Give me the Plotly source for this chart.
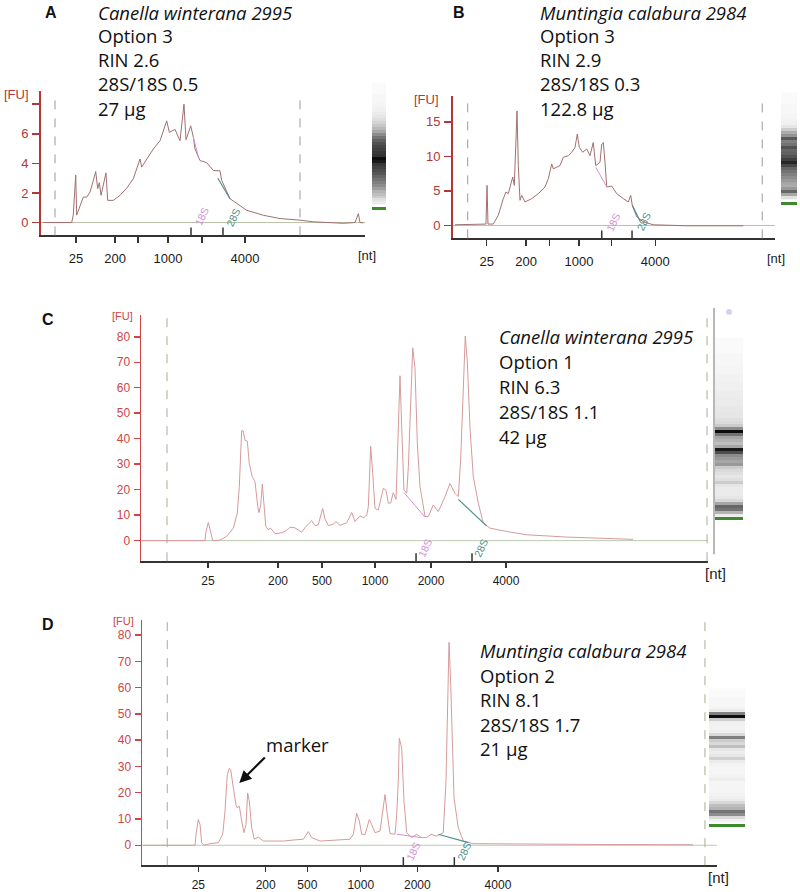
import plotly.graph_objects as go

W, H = 800, 892

# ------------------------------------------------------------------ data
# migration time (s) and fluorescence (FU)
a_time = [17.33, 22.02, 22.28, 22.68, 22.84, 23.38, 23.92, 24.48, 25.02, 25.56, 25.95, 26.28,
          26.54, 26.82, 27.19, 27.63, 27.91, 28.83, 29.92, 31.02, 32.10, 33.20, 33.47, 34.29,
          35.37, 36.47, 37.56, 37.99, 38.92, 39.74, 40.39, 40.72, 41.49, 41.91, 42.19, 43.01,
          44.11, 45.19, 46.28, 46.56, 47.92, 49.01, 50.65, 53.37, 56.10, 59.37, 61.54, 66.45,
          68.37, 68.91, 69.18, 69.72]
a_fu = [0.0, 0.0, 0.5, 3.2, 0.5, 1.16, 1.72, 1.72, 2.06, 2.85, 3.45, 2.29,
        2.7, 1.84, 2.5, 3.36, 1.5, 1.5, 1.84, 2.33, 2.96, 4.3, 3.75, 4.3,
        4.97, 5.53, 6.88, 6.1, 6.3, 5.53, 8.0, 5.6, 6.54, 5.8, 4.97, 4.19,
        4.05, 3.52, 3.5, 2.85, 1.61, 1.3, 0.83, 0.49, 0.27, 0.16, 0.05, -0.05,
        0.0, 0.6, 0.0, -0.02]

b_time = [17.33, 22.27, 22.43, 22.60, 22.76, 23.63, 24.46, 25.28, 25.72, 26.10, 26.50, 26.83,
          27.09, 27.54, 27.75, 28.03, 28.31, 28.85, 29.95, 31.04, 32.14, 32.69, 33.25, 33.51,
          34.61, 35.16, 35.98, 36.54, 37.08, 37.46, 37.79, 38.35, 39.01, 39.55, 40.09, 40.49,
          40.87, 41.20, 41.48, 41.74, 42.02, 42.30, 43.12, 43.95, 45.03, 45.86, 46.25, 46.51,
          47.24, 48.33, 49.97, 55.47, 64.79]
b_fu = [0.1, 0.2, 0.2, 5.8, 0.2, 0.2, 1.48, 3.88, 4.84, 4.6, 6.03, 7.0,
        5.8, 16.57, 8.67, 3.64, 4.35, 3.40, 3.88, 4.6, 5.56, 6.75, 8.9, 8.19,
        8.67, 9.87, 10.1, 10.59, 11.3, 13.22, 11.3, 10.59, 11.06, 10.1, 12.0, 8.67,
        8.9, 9.15, 11.78, 12.0, 9.15, 5.56, 5.7, 4.6, 3.88, 3.4, 4.35, 2.92,
        1.25, 0.53, 0.1, -0.05, -0.05]

c_time = [17.07, 22.98, 23.05, 23.29, 23.45, 23.70, 24.38, 25.01, 25.63, 26.00, 26.19, 26.41,
          26.56, 26.72, 26.94, 27.12, 27.40, 27.66, 27.91, 28.03, 28.19, 28.34, 28.50, 28.66,
          28.90, 29.12, 29.53, 30.15, 30.62, 30.93, 31.40, 32.02, 32.42, 32.96, 33.26, 33.57,
          33.98, 34.20, 34.51, 34.98, 35.23, 35.60, 36.23, 36.70, 37.00, 37.47, 37.84, 38.10,
          38.25, 38.47, 38.66, 38.87, 39.18, 39.65, 39.90, 40.12, 40.34, 40.58, 40.84, 41.05,
          41.21, 41.37, 41.58, 41.84, 41.99, 42.40, 42.61, 42.83, 43.08, 43.55, 43.86, 44.32,
          44.79, 45.42, 45.88, 46.35, 46.66, 46.88, 47.13, 47.31, 47.50, 47.75, 48.06, 48.53,
          48.99, 49.62, 51.18, 53.05, 56.79, 59.91, 62.99]
c_fu = [0.0, 0.0, 3.0, 7.1, 4.5, 0.0, 0.2, 1.7, 4.9, 10.8, 21.2, 43.2,
        43.0, 39.4, 39.0, 30.3, 25.1, 23.1, 13.4, 11.0, 14.0, 22.2, 14.0, 5.6,
        4.3, 4.9, 2.7, 3.1, 4.0, 5.3, 5.0, 3.3, 5.6, 7.8, 5.9, 6.2,
        12.7, 8.5, 5.9, 6.5, 7.5, 6.0, 7.0, 11.0, 7.5, 9.7, 9.0, 10.1,
        13.4, 37.0, 26.4, 12.7, 12.0, 20.5, 19.8, 14.7, 14.8, 18.8, 16.2, 47.2,
        64.7, 44.5, 19.9, 18.6, 29.0, 75.7, 67.9, 38.0, 21.2, 9.5, 9.5, 14.0,
        11.4, 17.3, 22.4, 18.6, 17.3, 31.6, 64.0, 80.3, 70.5, 44.5, 25.1, 14.7,
        6.9, 4.9, 3.6, 2.3, 1.4, 1.0, 0.5]

d_time = [17.10, 21.89, 21.98, 22.19, 22.35, 22.50, 22.71, 23.27, 24.03, 24.44, 24.65, 24.86,
          25.05, 25.18, 25.42, 25.66, 25.78, 25.97, 26.19, 26.40, 26.59, 26.74, 26.89, 27.11,
          27.35, 27.72, 28.18, 30.02, 30.95, 31.87, 32.33, 32.64, 33.41, 34.63, 36.17, 36.48,
          36.79, 37.03, 37.25, 37.55, 37.95, 38.17, 38.48, 38.94, 39.40, 39.61, 39.86, 40.32,
          40.48, 40.62, 40.72, 40.94, 41.15, 41.40, 41.86, 42.32, 42.78, 43.24, 43.64, 44.16,
          44.77, 45.02, 45.30, 45.45, 45.76, 46.15, 46.62, 47.54, 52.46, 59.22, 67.79]
d_fu = [0.0, 0.0, 4.2, 9.8, 7.9, 1.0, 0.0, 0.6, 1.0, 4.2, 13.0, 26.8,
        29.3, 28.7, 21.8, 15.5, 14.2, 14.9, 9.2, 4.8, 7.9, 19.9, 16.8, 6.7,
        2.3, 3.1, 1.6, 1.6, 2.0, 2.3, 5.2, 2.9, 1.6, 1.9, 2.3, 4.2,
        12.2, 9.2, 4.2, 4.0, 9.8, 7.9, 4.8, 5.4, 19.3, 11.7, 4.4, 4.2,
        11.7, 24.3, 40.7, 36.9, 16.8, 4.8, 2.9, 4.2, 2.9, 3.0, 4.2, 3.5,
        4.8, 24.3, 77.2, 62.1, 18.0, 6.7, 1.6, 0.6, 0.4, 0.3, 0.2]

# 18S / 28S peak-baseline segments (time, FU)
a_18s_seg = ([41.91, 42.77], [5.8, 4.4])
a_28s_seg = ([45.93, 47.92], [3.0, 1.61])
b_18s_seg = ([40.49, 42.30], [8.4, 5.6])
b_28s_seg = ([46.51, 47.80], [2.92, 0.6])
c_18s_seg = ([41.58, 43.55], [18.9, 9.2])
c_28s_seg = ([46.66, 49.30], [16.2, 5.8])
d_18s_seg = ([40.48, 42.78], [4.2, 2.9])
d_28s_seg = ([44.31, 47.08], [4.2, 1.0])

# size ladder ticks (time positions) and labels
a_tick_time = [22.73, 29.11, 32.87, 37.78, 43.34, 50.37]
b_tick_time = [22.55, 29.02, 32.85, 37.74, 43.12, 50.30]
c_tick_time = [23.26, 29.81, 33.92, 38.87, 44.11, 51.12]
d_tick_time = [22.19, 28.40, 32.24, 37.16, 42.38, 49.81]
ab_tick_text = ["25", "200", "", "1000", "", "4000"]
cd_tick_text = ["25", "200", "500", "1000", "2000", "4000"]

# 18S and 28S positions
a_rrna_time = [41.54, 46.77]
b_rrna_time = [41.48, 46.47]
c_rrna_time = [42.71, 47.94]
d_rrna_time = [41.09, 45.79]
rrna_names = ["18S", "28S"]

# analysis window (dashed lines)
a_window = [19.29, 59.37]
b_window = [19.42, 67.90]
c_window = [19.43, 69.91]
d_window = [19.33, 68.89]

a_fu_ticks = [0, 2, 4, 6, 8]
a_fu_text = ["0", "2", "4", "6", ""]
b_fu_ticks = [0, 5, 10, 15]
cd_fu_ticks = [0, 10, 20, 30, 40, 50, 60, 70, 80]

# sample descriptions
a_info = ["Canella winterana 2995", "Option 3", "RIN 2.6", "28S/18S 0.5", "27 µg"]
b_info = ["Muntingia calabura 2984", "Option 3", "RIN 2.9", "28S/18S 0.3", "122.8 µg"]
c_info = ["Canella winterana 2995", "Option 1", "RIN 6.3", "28S/18S 1.1", "42 µg"]
d_info = ["Muntingia calabura 2984", "Option 2", "RIN 8.1", "28S/18S 1.7", "21 µg"]

# gel-like lane intensity profiles (0 = white, 1 = black), top to bottom
lane_a_gray = [0.02, 0.02, 0.02, 0.02, 0.03, 0.03, 0.03, 0.04, 0.05, 0.06, 0.08, 0.10, 0.13, 0.17,
               0.22, 0.28, 0.35, 0.45, 0.55, 0.62, 0.68, 0.72, 0.75, 0.78, 0.80, 0.95, 0.90, 0.78,
               0.74, 0.70, 0.66, 0.60, 0.55, 0.50, 0.45, 0.38, 0.30, 0.25, 0.20, 0.12, 0.08]
lane_b_gray = [0.02, 0.02, 0.02, 0.02, 0.03, 0.03, 0.03, 0.04, 0.04, 0.05, 0.06, 0.10, 0.20, 0.32,
               0.42, 0.65, 0.50, 0.55, 0.68, 0.60, 0.62, 0.68, 0.75, 0.85, 0.72, 0.60, 0.55, 0.50,
               0.45, 0.40, 0.35, 0.32, 0.40, 0.60, 0.35, 0.12]
lane_c_gray = [0.02, 0.02, 0.02, 0.02, 0.02, 0.03, 0.03, 0.03, 0.03, 0.04, 0.04, 0.04, 0.05, 0.05,
               0.05, 0.06, 0.06, 0.06, 0.07, 0.07, 0.08, 0.08, 0.08, 0.09, 0.09, 0.10, 0.10, 0.12,
               0.14, 0.20, 0.45, 0.95, 0.55, 0.35, 0.30, 0.25, 0.35, 0.90, 0.70, 0.45, 0.40, 0.35,
               0.40, 0.20, 0.15, 0.12, 0.10, 0.12, 0.20, 0.10, 0.08, 0.08, 0.08, 0.10, 0.15, 0.35,
               0.60, 0.55, 0.30, 0.08]
lane_d_gray = [0.02, 0.02, 0.02, 0.03, 0.03, 0.03, 0.04, 0.08, 0.50, 0.95, 0.20, 0.06, 0.05, 0.05,
               0.06, 0.15, 0.50, 0.20, 0.15, 0.25, 0.10, 0.07, 0.10, 0.18, 0.08, 0.05, 0.04, 0.04,
               0.04, 0.05, 0.07, 0.04, 0.04, 0.04, 0.04, 0.05, 0.06, 0.08, 0.15, 0.25, 0.30, 0.55,
               0.45, 0.15, 0.05]
# lower marker (green) position in lane rows
lane_marker_row = [41.83, 36.83, 60.17, 45.5]

# ------------------------------------------------------------------ layout helpers
def px(x):
    return x / W


def py(y):
    return 1 - y / H


DARK_RED_AB = "#b03838"
RED_CD = "#d04545"
TRACE_AB = "#a07070"
TRACE_CD = "#d69a9a"
C18 = "#d490d6"
C28 = "#4f8f8c"
INFO_FONT = 18.5

panels = [
    dict(key="a", xa="x", ya="y", box=(41, 365, 92, 237), yr=[-0.87, 8.87],
         t=a_time, f=a_fu, s18=a_18s_seg, s28=a_28s_seg, tt=a_tick_time, ttxt=ab_tick_text,
         rr=a_rrna_time, win=a_window, yt=a_fu_ticks, ytxt=a_fu_text,
         trace=TRACE_AB, axred=DARK_RED_AB, lblred=DARK_RED_AB, dash="#9a9a9a", base="#b7c2a8",
         xfont=13, yfont=13, ticklen_y=7, ticklen_x=6, lw=2, xstand=4, rfont=10.5,
         rlab=(10, 19),
         info=a_info, info_x=96, info_y=[13, 36, 60, 84, 109], letter="A", letter_xy=(51, 13),
         fu_xy=(16, 95), fu_size=13, nt_xy=(367, 257), nt_size=13),
    dict(key="b", xa="x2", ya="y2", box=(453, 775, 97, 240), yr=[-1.87, 18.68],
         t=b_time, f=b_fu, s18=b_18s_seg, s28=b_28s_seg, tt=b_tick_time, ttxt=ab_tick_text,
         rr=b_rrna_time, win=b_window, yt=b_fu_ticks, ytxt=[str(v) for v in b_fu_ticks],
         trace=TRACE_AB, axred=DARK_RED_AB, lblred=DARK_RED_AB, dash="#9a9a9a", base="#b7c2a8",
         xfont=13, yfont=13, ticklen_y=7, ticklen_x=6, lw=2, xstand=4, rfont=10.5,
         rlab=(11, 17),
         info=b_info, info_x=538, info_y=[13, 36, 60, 84, 109], letter="B", letter_xy=(459, 13),
         fu_xy=(427, 100), fu_size=13, nt_xy=(776, 260), nt_size=13),
    dict(key="c", xa="x3", ya="y3", box=(141, 708, 317, 565), yr=[-8.07, 88.6],
         t=c_time, f=c_fu, s18=c_18s_seg, s28=c_28s_seg, tt=c_tick_time, ttxt=cd_tick_text,
         rr=c_rrna_time, win=c_window, yt=cd_fu_ticks, ytxt=[str(v) for v in cd_fu_ticks],
         trace=TRACE_CD, axred=RED_CD, lblred=RED_CD, dash="#a3b093", base="#bccbb0",
         xfont=12, yfont=12, ticklen_y=6, ticklen_x=5, lw=1.5, xstand=3, rfont=10.5,
         rlab=(9, 13),
         info=c_info, info_x=497, info_y=[339, 364, 389, 414, 439], letter="C", letter_xy=(48, 322),
         fu_xy=(122, 318), fu_size=11, nt_xy=(715, 577), nt_size=15),
    dict(key="d", xa="x4", ya="y4", box=(142, 717, 624, 871), yr=[-7.56, 85.8],
         t=d_time, f=d_fu, s18=d_18s_seg, s28=d_28s_seg, tt=d_tick_time, ttxt=cd_tick_text,
         rr=d_rrna_time, win=d_window, yt=cd_fu_ticks, ytxt=[str(v) for v in cd_fu_ticks],
         trace=TRACE_CD, axred=RED_CD, lblred=RED_CD, dash="#a3b093", base="#bccbb0",
         xfont=12, yfont=12, ticklen_y=6, ticklen_x=5, lw=1.5, xstand=3, rfont=10.5,
         rlab=(10, 14),
         info=d_info, info_x=478, info_y=[655, 680, 704, 729, 754], letter="D", letter_xy=(48, 629),
         fu_xy=(123, 625), fu_size=11, nt_xy=(718, 883), nt_size=15),
]

fig = go.Figure()
shapes = []
annotations = []
layout_axes = {}

for p in panels:
    L, R, T, B = p["box"]
    xa, ya = p["xa"], p["ya"]
    xname = "xaxis" + xa[1:]
    yname = "yaxis" + ya[1:]
    hpx = B - T

    fig.add_trace(go.Scatter(x=p["t"], y=p["f"], mode="lines", xaxis=xa, yaxis=ya,
                             line=dict(color=p["trace"], width=1), hoverinfo="skip"))
    fig.add_trace(go.Scatter(x=p["s18"][0], y=p["s18"][1], mode="lines", xaxis=xa, yaxis=ya,
                             line=dict(color=C18, width=1), hoverinfo="skip"))
    fig.add_trace(go.Scatter(x=p["s28"][0], y=p["s28"][1], mode="lines", xaxis=xa, yaxis=ya,
                             line=dict(color=C28, width=1.2), hoverinfo="skip"))

    layout_axes[xname] = dict(
        domain=[px(L), px(R)], range=[17, 70], anchor=ya, showgrid=False, zeroline=False,
        showline=True, linecolor="#333333", linewidth=p["lw"], ticks="outside",
        ticklen=p["ticklen_x"], tickcolor="#333333", tickwidth=1.5,
        tickvals=p["tt"], ticktext=p["ttxt"], ticklabelstandoff=p["xstand"],
        tickfont=dict(family="Liberation Sans, Arial", size=p["xfont"], color="#1a1a1a"),
        fixedrange=True)
    layout_axes[yname] = dict(
        domain=[py(B), py(T)], range=p["yr"], anchor=xa, showgrid=False, zeroline=False,
        showline=True, linecolor=p["axred"], linewidth=p["lw"], ticks="outside",
        ticklen=p["ticklen_y"], tickcolor=p["axred"], tickwidth=1.5,
        tickvals=p["yt"], ticktext=p["ytxt"], ticklabelstandoff=1,
        tickfont=dict(family="Liberation Sans, Arial", size=p["yfont"], color=p["lblred"]),
        fixedrange=True)

    # baseline
    shapes.append(dict(type="line", xref=xa + " domain", yref=ya, x0=0, x1=1, y0=0, y1=0,
                       line=dict(color=p["base"], width=1), layer="below"))
    # analysis window
    for wv in p["win"]:
        shapes.append(dict(type="line", xref=xa, yref=ya + " domain", x0=wv, x1=wv, y0=0, y1=1,
                           line=dict(color=p["dash"], width=1, dash="dash")))
    # 18S / 28S up-ticks and labels
    for rv, nm, col in zip(p["rr"], rrna_names, [C18, C28]):
        shapes.append(dict(type="line", xref=xa, yref=ya + " domain", x0=rv, x1=rv,
                           y0=0, y1=8 / hpx, line=dict(color="#333333", width=1.5)))
        annotations.append(dict(text=nm, xref=xa, yref=ya + " domain", x=rv, xshift=p["rlab"][0],
                                y=p["rlab"][1] / hpx, xanchor="center", yanchor="middle",
                                showarrow=False, textangle=-65,
                                font=dict(family="Liberation Sans, Arial", size=p["rfont"], color=col)))

    # info text
    for i, (txt, yy) in enumerate(zip(p["info"], p["info_y"])):
        annotations.append(dict(text=("<i>%s</i>" % txt) if i == 0 else txt, xref="paper", yref="paper",
                                x=px(p["info_x"]), y=py(yy), xanchor="left", yanchor="middle",
                                showarrow=False,
                                font=dict(family="Open Sans", size=INFO_FONT, color="#111111")))
    annotations.append(dict(text="<b>%s</b>" % p["letter"], xref="paper", yref="paper",
                            x=px(p["letter_xy"][0]), y=py(p["letter_xy"][1]), xanchor="center",
                            yanchor="middle", showarrow=False,
                            font=dict(family="Liberation Sans, Arial", size=16, color="#111111")))
    annotations.append(dict(text="[FU]", xref="paper", yref="paper",
                            x=px(p["fu_xy"][0]), y=py(p["fu_xy"][1]), xanchor="center",
                            yanchor="middle", showarrow=False,
                            font=dict(family="Liberation Sans, Arial", size=p["fu_size"], color=p["lblred"])))
    annotations.append(dict(text="[nt]", xref="paper", yref="paper",
                            x=px(p["nt_xy"][0]), y=py(p["nt_xy"][1]), xanchor="center",
                            yanchor="middle", showarrow=False,
                            font=dict(family="Liberation Sans, Arial", size=p["nt_size"], color="#222222")))

# marker arrow in panel D
annotations.append(dict(text="", xref="x4", yref="y4", x=25.97, y=23.7, ax=27, ay=-27,
                        showarrow=True, arrowhead=2, arrowsize=1.1, arrowwidth=2.2,
                        arrowcolor="#111111"))
annotations.append(dict(text="marker", xref="paper", yref="paper", x=px(297), y=py(750),
                        xanchor="center", yanchor="middle", showarrow=False,
                        font=dict(family="Open Sans", size=INFO_FONT, color="#111111")))

# ------------------------------------------------------------------ gel lanes
lanes = [
    dict(g=lane_a_gray, xl=372, xr=386, top=83, row=3),
    dict(g=lane_b_gray, xl=781, xr=797, top=93, row=3),
    dict(g=lane_c_gray, xl=715, xr=743, top=340, row=3),
    dict(g=lane_d_gray, xl=709, xr=745, top=693, row=3),
]
for i, (ln, mrow) in enumerate(zip(lanes, lane_marker_row)):
    k = str(5 + i)
    xa, ya = "x" + k, "y" + k
    bottom_row = mrow + 1.5
    bottom_px = ln["top"] + (bottom_row + 0.5) * ln["row"]
    fig.add_trace(go.Heatmap(z=[[v] for v in ln["g"]], x=[0], y=list(range(len(ln["g"]))),
                             xaxis=xa, yaxis=ya, zmin=0, zmax=1, showscale=False,
                             colorscale=[[0, "#ffffff"], [1, "#000000"]], hoverinfo="skip"))
    layout_axes["xaxis" + k] = dict(domain=[px(ln["xl"]), px(ln["xr"])], range=[-0.5, 0.5],
                                    anchor=ya, visible=False, fixedrange=True)
    layout_axes["yaxis" + k] = dict(domain=[py(bottom_px), py(ln["top"])],
                                    range=[bottom_row, -0.5], anchor=xa, visible=False, fixedrange=True)
    shapes.append(dict(type="rect", xref=xa + " domain", yref=ya, x0=0, x1=1,
                       y0=mrow - 0.5, y1=mrow + 0.5, fillcolor="#3c8a2c", line=dict(width=0)))

# lane separator and upper marker dot in panel C
shapes.append(dict(type="line", xref="paper", yref="paper", x0=px(714), x1=px(714),
                   y0=py(310), y1=py(558), line=dict(color="#888888", width=1.2)))
shapes.append(dict(type="circle", xref="paper", yref="paper", x0=px(726), x1=px(732),
                   y0=py(317), y1=py(311), fillcolor="#d2d2ee", line=dict(width=0)))

fig.update_layout(
    width=W, height=H, margin=dict(l=0, r=0, t=0, b=0),
    paper_bgcolor="white", plot_bgcolor="rgba(0,0,0,0)", showlegend=False,
    shapes=shapes, annotations=annotations, **layout_axes)

fig.write_html("out.html", config={"displayModeBar": False, "staticPlot": True},
               post_script="document.body.style.margin='0px';document.body.style.overflow='hidden';")
